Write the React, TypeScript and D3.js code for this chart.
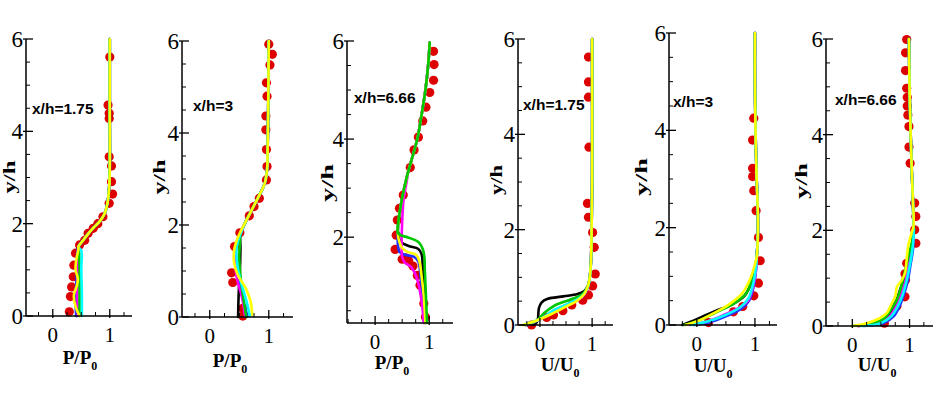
import * as d3 from "d3";

type Pt = [number, number];

// ---- experimental points (red dots), [x, y/h]
const exp175P: Pt[] = [[0.29, 0.09], [0.31, 0.42], [0.33, 0.63], [0.36, 0.85], [0.37, 1.1], [0.4, 1.36], [0.47, 1.54], [0.56, 1.64], [0.62, 1.79], [0.71, 1.9], [0.79, 2.0], [0.88, 2.15], [0.99, 2.44], [1.05, 2.64], [1.03, 2.91], [1.03, 3.25], [0.99, 3.45], [0.99, 4.28], [0.99, 4.39], [0.97, 4.57], [1.0, 5.61]];
const exp3P: Pt[] = [[0.56, 0.02], [0.56, 0.19], [0.39, 0.75], [0.37, 0.96], [0.42, 1.53], [0.51, 1.83], [0.67, 2.2], [0.75, 2.4], [0.84, 2.58], [0.96, 2.98], [0.97, 3.27], [0.96, 3.64], [0.95, 4.07], [0.95, 4.37], [0.97, 4.8], [0.96, 5.09], [1.02, 5.48], [1.06, 5.71], [1.0, 5.93]];
const exp666P: Pt[] = [[0.93, 0.37], [0.9, 0.65], [0.83, 1.02], [0.78, 1.22], [0.7, 1.41], [0.62, 1.52], [0.56, 1.58], [0.5, 1.55], [0.37, 1.75], [0.39, 2.04], [0.41, 2.35], [0.45, 2.59], [0.52, 2.86], [0.65, 3.42], [0.72, 3.78], [0.8, 4.04], [0.88, 4.37], [0.94, 4.65], [1.01, 4.95], [1.08, 5.2], [1.09, 5.52], [1.08, 5.79]];
const exp175U: Pt[] = [[-0.16, 0.0], [0.13, 0.16], [0.26, 0.21], [0.44, 0.3], [0.61, 0.42], [0.82, 0.52], [0.93, 0.63], [1.01, 0.82], [1.06, 1.07], [1.04, 1.63], [1.01, 1.94], [0.93, 2.26], [0.91, 2.55], [0.94, 3.73], [0.93, 4.78], [0.93, 5.1], [0.93, 5.62]];
const exp3U: Pt[] = [[0.2, 0.05], [0.63, 0.27], [0.79, 0.38], [0.98, 0.6], [1.06, 0.86], [1.09, 1.32], [1.06, 1.8], [1.02, 2.35], [0.98, 2.76], [0.96, 3.05], [0.96, 3.22], [0.96, 3.8], [0.98, 4.25]];
const exp666U: Pt[] = [[0.56, 0.06], [0.78, 0.42], [0.92, 0.61], [0.93, 0.96], [0.92, 1.09], [0.95, 1.31], [1.11, 1.73], [1.09, 2.01], [1.11, 2.29], [1.09, 2.57], [1.01, 3.4], [0.99, 3.74], [0.99, 4.17], [0.97, 4.41], [0.96, 4.6], [0.96, 4.78], [0.95, 4.97], [0.93, 5.34], [0.93, 5.71], [0.95, 5.99]];

// ---- computed profiles (shared upper parts + individual lower parts)
const up175P: Pt[] = [[0.45, 1.5], [0.52, 1.62], [0.62, 1.78], [0.72, 1.92], [0.83, 2.06], [0.91, 2.22], [0.96, 2.45], [0.99, 2.8], [1.0, 3.2], [1.0, 4.5], [1.0, 6]];
const black175P: Pt[] = [[0.42, 0], [0.42, 0.5], [0.43, 1.0], [0.44, 1.45]];
const blue175P: Pt[] = [[0.41, 0], [0.4, 0.4], [0.42, 0.9], [0.43, 1.4]];
const magenta175P: Pt[] = [[0.44, 0], [0.43, 0.5], [0.44, 1.0], [0.44, 1.4]];
const green175P: Pt[] = [[0.47, 0], [0.47, 0.5], [0.47, 1.0], [0.46, 1.4]];
const cyan175P: Pt[] = [[0.51, 0], [0.51, 0.5], [0.5, 1.0], [0.5, 1.42]];
const yellow175P: Pt[] = [[0.47, 0], [0.4, 0.2], [0.37, 0.45], [0.42, 0.65], [0.44, 0.8], [0.4, 1.0], [0.41, 1.2], [0.45, 1.45]];

const up3P: Pt[] = [[0.6, 2.05], [0.72, 2.35], [0.84, 2.65], [0.93, 2.9], [0.97, 3.2], [0.98, 3.6], [0.99, 4.5], [1.0, 6]];
const black3P: Pt[] = [[0.48, 0], [0.49, 0.5], [0.51, 1.0], [0.52, 1.5], [0.52, 1.8]];
const blue3P: Pt[] = [[0.64, 0.02], [0.58, 0.3], [0.5, 0.8], [0.44, 1.3], [0.45, 1.6], [0.52, 1.8]];
const magenta3P: Pt[] = [[0.6, 0], [0.55, 0.4], [0.45, 0.9], [0.44, 1.3], [0.46, 1.6], [0.52, 1.8]];
const green3P: Pt[] = [[0.62, 0], [0.57, 0.4], [0.52, 0.9], [0.5, 1.3], [0.51, 1.6], [0.52, 1.8]];
const cyan3P: Pt[] = [[0.68, 0.02], [0.62, 0.35], [0.52, 0.8], [0.46, 1.2], [0.46, 1.55], [0.52, 1.8]];
const yellow3P: Pt[] = [[0.72, 0.05], [0.69, 0.35], [0.6, 0.65], [0.48, 0.9], [0.41, 1.2], [0.42, 1.5], [0.5, 1.8]];

const up666P: Pt[] = [[0.44, 2.4], [0.5, 2.8], [0.58, 3.2], [0.68, 3.6], [0.78, 4.0], [0.86, 4.5], [0.93, 5.0], [0.98, 5.5], [1.01, 5.97]];
const black666P: Pt[] = [[0.93, 0.25], [0.9, 0.8], [0.88, 1.4], [0.86, 1.65], [0.8, 1.76], [0.62, 1.82], [0.5, 1.88], [0.45, 1.95], [0.42, 2.08]];
const blue666P: Pt[] = [[0.92, 0.25], [0.88, 0.8], [0.84, 1.2], [0.8, 1.5], [0.72, 1.6], [0.55, 1.64], [0.45, 1.7], [0.42, 1.85], [0.42, 2.08]];
const magenta666P: Pt[] = [[0.9, 0.25], [0.87, 0.6], [0.82, 0.95], [0.76, 1.2], [0.66, 1.4], [0.55, 1.48], [0.5, 1.6], [0.49, 1.9], [0.5, 2.3], [0.52, 2.7], [0.56, 3.0], [0.6, 3.25]];
const yellow666P: Pt[] = [[0.93, 0.25], [0.9, 0.8], [0.86, 1.2], [0.82, 1.5], [0.76, 1.64], [0.6, 1.7], [0.5, 1.78], [0.45, 1.9], [0.42, 2.08]];
const green666P: Pt[] = [[0.96, 0.25], [0.94, 0.8], [0.92, 1.3], [0.91, 1.6], [0.88, 1.76], [0.8, 1.9], [0.62, 1.99], [0.47, 2.04], [0.42, 2.1]];

const up175U: Pt[] = [[0.98, 1.4], [0.99, 2.0], [1.0, 3.0], [1.0, 6]];
const black175U: Pt[] = [[-0.28, 0], [-0.08, 0.03], [-0.04, 0.12], [-0.02, 0.35], [0.03, 0.47], [0.15, 0.55], [0.45, 0.6], [0.72, 0.65], [0.86, 0.72], [0.93, 0.85], [0.96, 1.05]];
const blue175U: Pt[] = [[-0.25, 0], [0.02, 0.13], [0.3, 0.32], [0.6, 0.47], [0.82, 0.6], [0.92, 0.8], [0.96, 1.05]];
const magenta175U: Pt[] = [[-0.22, 0], [0.05, 0.15], [0.3, 0.3], [0.6, 0.45], [0.82, 0.6], [0.92, 0.8], [0.96, 1.05]];
const green175U: Pt[] = [[-0.28, 0], [-0.05, 0.1], [0.08, 0.25], [0.3, 0.42], [0.6, 0.54], [0.82, 0.65], [0.92, 0.82], [0.96, 1.05]];
const cyan175U: Pt[] = [[-0.28, 0.02], [0.0, 0.12], [0.25, 0.3], [0.55, 0.45], [0.8, 0.6], [0.92, 0.8], [0.96, 1.05]];
const yellow175U: Pt[] = [[-0.32, 0], [-0.05, 0.1], [0.2, 0.22], [0.45, 0.36], [0.7, 0.5], [0.85, 0.65], [0.93, 0.85], [0.96, 1.05]];

const up3U: Pt[] = [[1.05, 1.8], [1.05, 2.3], [1.03, 3.0], [1.01, 4.0], [1.0, 5.0], [1.0, 6.0]];
const black3U: Pt[] = [[-0.25, 0], [0.0, 0.12], [0.3, 0.28], [0.6, 0.42], [0.82, 0.6], [0.93, 0.85], [1.0, 1.15], [1.03, 1.4]];
const blue3U: Pt[] = [[-0.05, 0], [0.2, 0.05], [0.5, 0.18], [0.76, 0.33], [0.9, 0.5], [0.98, 0.8], [1.02, 1.15], [1.03, 1.4]];
const magenta3U: Pt[] = [[-0.12, 0], [0.15, 0.06], [0.45, 0.2], [0.72, 0.35], [0.88, 0.5], [0.97, 0.8], [1.02, 1.15], [1.03, 1.4]];
const green3U: Pt[] = [[-0.22, 0], [0.05, 0.1], [0.35, 0.27], [0.65, 0.45], [0.85, 0.65], [0.95, 0.95], [1.01, 1.2], [1.03, 1.4]];
const cyan3U: Pt[] = [[-0.1, 0], [0.18, 0.07], [0.48, 0.2], [0.74, 0.36], [0.89, 0.55], [0.97, 0.85], [1.02, 1.2], [1.03, 1.4]];
const yellow3U: Pt[] = [[-0.2, 0], [0.05, 0.1], [0.3, 0.25], [0.55, 0.42], [0.78, 0.65], [0.92, 0.95], [1.0, 1.25], [1.03, 1.4]];

const up666U: Pt[] = [[1.06, 2.6], [1.04, 3.2], [1.02, 4.0], [1.0, 5.0], [0.99, 6.0]];
const black666U: Pt[] = [[0.1, 0], [0.4, 0.05], [0.62, 0.2], [0.74, 0.45], [0.82, 0.7], [0.9, 1.0], [0.97, 1.3], [1.03, 1.6], [1.07, 2.0], [1.07, 2.1]];
const blue666U: Pt[] = [[0.2, 0], [0.55, 0.06], [0.72, 0.2], [0.82, 0.4], [0.9, 0.65], [0.97, 0.95], [1.02, 1.3], [1.06, 1.6], [1.07, 1.85], [1.07, 2.1]];
const magenta666U: Pt[] = [[0.1, 0], [0.45, 0.06], [0.65, 0.2], [0.76, 0.4], [0.85, 0.65], [0.93, 0.95], [0.99, 1.3], [1.04, 1.6], [1.07, 1.85], [1.07, 2.1]];
const green666U: Pt[] = [[0.0, 0], [0.3, 0.04], [0.55, 0.15], [0.68, 0.35], [0.78, 0.55], [0.86, 0.85], [0.93, 1.2], [0.99, 1.5], [1.05, 1.8], [1.08, 2.0], [1.07, 2.1]];
const cyan666U: Pt[] = [[0.15, 0], [0.5, 0.06], [0.68, 0.2], [0.79, 0.4], [0.88, 0.65], [0.95, 0.95], [1.01, 1.3], [1.05, 1.6], [1.07, 1.85], [1.07, 2.1]];
const yellow666U: Pt[] = [[0.0, 0], [0.2, 0.04], [0.42, 0.13], [0.6, 0.27], [0.68, 0.45], [0.75, 0.62], [0.78, 0.82], [0.86, 0.95], [0.92, 1.1], [0.95, 1.4], [0.98, 1.7], [1.03, 1.92], [1.07, 2.1]];

const labels = ["x/h=1.75", "x/h=3", "x/h=6.66", "x/h=1.75", "x/h=3", "x/h=6.66"];
const colors: Record<string, string> = {
  black: "#000000", blue: "#2233ff", magenta: "#ff00ff", green: "#00c800", cyan: "#00ffff", yellow: "#ffff00",
};

type Series = { color: string; pts: Pt[] };
type PanelDef = {
  xr: [number, number]; xd: [number, number];
  yr: [number, number]; yd: [number, number];
  label: string; lx: number; ly: number; quantity: "P" | "U";
  titleX: number; titleY: number;
  yTitleX: number; yTitleY: number; yTitleLen: number;
  exp: Pt[]; series: Series[];
};

const s = (color: string, low: Pt[], up: Pt[]): Series => ({ color, pts: low.concat(up) });

const panels: PanelDef[] = [
  { xr: [26, 132], xd: [-0.47, 1.39], yr: [316, 39], yd: [0, 6], label: labels[0], lx: 32, ly: 114, quantity: "P", titleX: 80, titleY: 364,
    yTitleX: 15, yTitleY: 177, yTitleLen: 33, exp: exp175P,
    series: [s("black", black175P, up175P), s("blue", blue175P, up175P), s("magenta", magenta175P, up175P), s("green", green175P, up175P), s("cyan", cyan175P, up175P), s("yellow", yellow175P, up175P)] },
  { xr: [182, 293], xd: [-0.47, 1.41], yr: [317, 41], yd: [0, 6], label: labels[1], lx: 193, ly: 111, quantity: "P", titleX: 230, titleY: 367,
    yTitleX: 165, yTitleY: 177, yTitleLen: 35, exp: exp3P,
    series: [s("black", black3P, up3P), s("blue", blue3P, up3P), s("magenta", magenta3P, up3P), s("green", green3P, up3P), s("cyan", cyan3P, up3P), s("yellow", yellow3P, up3P)] },
  { xr: [347, 453], xd: [-0.52, 1.44], yr: [323, 41], yd: [0.25, 6], label: labels[2], lx: 354, ly: 103, quantity: "P", titleX: 392, titleY: 369,
    yTitleX: 333, yTitleY: 183, yTitleLen: 38, exp: exp666P,
    series: [s("black", black666P, up666P), s("blue", blue666P, up666P), s("magenta", magenta666P, up666P.slice(2)), s("yellow", yellow666P, up666P), s("green", green666P, up666P)] },
  { xr: [518, 613], xd: [-0.42, 1.4], yr: [325, 39], yd: [0, 6], label: labels[3], lx: 523, ly: 110, quantity: "U", titleX: 560, titleY: 371,
    yTitleX: 502, yTitleY: 180, yTitleLen: 30, exp: exp175U,
    series: [s("black", black175U, up175U), s("blue", blue175U, up175U), s("magenta", magenta175U, up175U), s("green", green175U, up175U), s("cyan", cyan175U, up175U), s("yellow", yellow175U, up175U)] },
  { xr: [669, 777], xd: [-0.48, 1.38], yr: [325, 33], yd: [0, 6], label: labels[4], lx: 673, ly: 107, quantity: "U", titleX: 713, titleY: 372,
    yTitleX: 647, yTitleY: 177, yTitleLen: 38, exp: exp3U,
    series: [s("black", black3U, up3U), s("blue", blue3U, up3U), s("magenta", magenta3U, up3U), s("green", green3U, up3U), s("cyan", cyan3U, up3U), s("yellow", yellow3U, up3U)] },
  { xr: [826, 933], xd: [-0.46, 1.41], yr: [326, 39], yd: [0, 6], label: labels[5], lx: 835, ly: 105, quantity: "U", titleX: 877, titleY: 371,
    yTitleX: 807, yTitleY: 181, yTitleLen: 36, exp: exp666U,
    series: [s("black", black666U, up666U), s("blue", blue666U, up666U), s("magenta", magenta666U, up666U), s("green", green666U, up666U), s("cyan", cyan666U, up666U), s("yellow", yellow666U, up666U)] },
];

const serif = "'Liberation Serif', 'Times New Roman', serif";
const sans = "'Liberation Sans', Arial, sans-serif";

function Panel({ p }: { p: PanelDef }) {
  const x = d3.scaleLinear().domain(p.xd).range(p.xr);
  const y = d3.scaleLinear().domain(p.yd).range(p.yr);
  const line = d3.line<Pt>().x(d => x(d[0])).y(d => y(d[1])).curve(d3.curveCatmullRom.alpha(0.5));

  const yMinor = d3.range(0, 6.01, 0.5).filter(v => v >= p.yd[0] && v % 2 !== 0);
  const yMajor = [0, 2, 4, 6].filter(v => v >= p.yd[0]);
  const xMinor = d3.range(-0.5, 1.51, 0.25).filter(v => v > p.xd[0] && v < p.xd[1] && v !== 0 && v !== 1);
  const xMajor = [0, 1];
  const x0 = p.xr[0];
  const yb = p.yr[0];

  return (
    <g>
      {p.exp.map((d, i) => (
        <circle key={i} cx={x(d[0])} cy={y(d[1])} r={4.6} fill="#dd0000" />
      ))}
      <g fill="none" strokeWidth={2.6} strokeLinejoin="round" strokeLinecap="round">
        {p.series.map((sr, i) => (
          <path key={i} d={line(sr.pts) ?? ""} stroke={colors[sr.color]} />
        ))}
      </g>
      {/* axes */}
      <line x1={x0} x2={x0} y1={yb} y2={y(6)} stroke="#000" strokeWidth={1.5} />
      <line x1={x0} x2={p.xr[1]} y1={yb} y2={yb} stroke="#000" strokeWidth={1.5} />
      {yMinor.map(v => <line key={"ym" + v} x1={x0} x2={x0 + 4} y1={y(v)} y2={y(v)} stroke="#000" strokeWidth={1} />)}
      {yMajor.map(v => <line key={"yM" + v} x1={x0 - 3} x2={x0 + 7} y1={y(v)} y2={y(v)} stroke="#000" strokeWidth={1.3} />)}
      {xMinor.map(v => <line key={"xm" + v} x1={x(v)} x2={x(v)} y1={yb} y2={yb - 4} stroke="#000" strokeWidth={1} />)}
      {xMajor.map(v => <line key={"xM" + v} x1={x(v)} x2={x(v)} y1={yb + 2} y2={yb - 7} stroke="#000" strokeWidth={1.3} />)}
      {yMajor.map(v => (
        <text key={"yl" + v} x={x0 - 3} y={y(v) + 8} textAnchor="end" fontFamily={serif} fontSize={23}>{v}</text>
      ))}
      {xMajor.map(v => (
        <text key={"xl" + v} x={x(v)} y={yb + 26} textAnchor="middle" fontFamily={serif} fontSize={21}>{v}</text>
      ))}
      <text x={p.lx} y={p.ly} fontFamily={sans} fontWeight="bold" fontSize={15.5}>{p.label}</text>
      <text transform={`translate(${p.yTitleX},${p.yTitleY}) rotate(-90)`} textAnchor="middle" fontFamily={serif} fontWeight="bold" fontSize={17}
        textLength={p.yTitleLen} lengthAdjust="spacingAndGlyphs">y/h</text>
      <text x={p.titleX} y={p.titleY} textAnchor="middle" fontFamily={serif} fontWeight="bold" fontSize={19}>
        {p.quantity}/{p.quantity}
        <tspan fontSize={12} dy={6}>0</tspan>
      </text>
    </g>
  );
}

export default function App() {
  return (
    <svg width={942} height={393} style={{ position: "absolute", left: 0, top: 0, background: "#fff" }}>
      {panels.map((p, i) => <Panel key={i} p={p} />)}
    </svg>
  );
}
